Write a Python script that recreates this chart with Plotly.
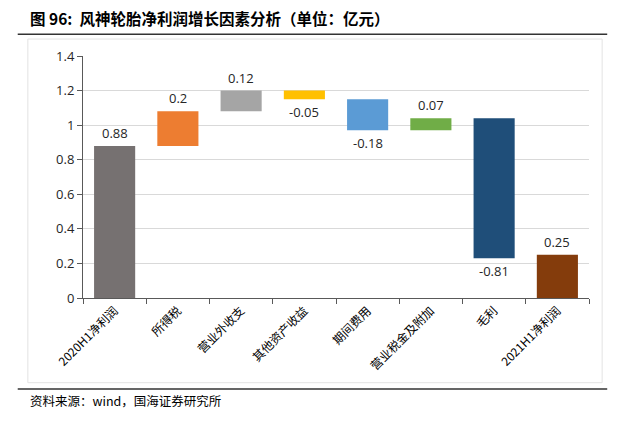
import plotly.graph_objects as go

categories = ["2020H1净利润", "所得税", "营业外收支", "其他资产收益", "期间费用", "营业税金及附加", "毛利", "2021H1净利润"]
values = [0.88, 0.20, 0.12, -0.05, -0.18, 0.07, -0.81, 0.25]
is_total = [True, False, False, False, False, False, False, True]
colors = ["#767171", "#ED7D31", "#A5A5A5", "#FFC000", "#5B9BD5", "#70AD47", "#1F4E79", "#843C0C"]
y_ticks = [0, 0.2, 0.4, 0.6, 0.8, 1, 1.2, 1.4]
y_tick_text = ["0", "0.2", "0.4", "0.6", "0.8", "1", "1.2", "1.4"]

bases = []
cum = 0.0
for v, t in zip(values, is_total):
    if t:
        bases.append(0.0)
        cum = v
    else:
        bases.append(cum)
        cum += v

fig = go.Figure()
fig.add_trace(go.Bar(
    x=categories, y=values, base=bases,
    marker=dict(color=colors, line=dict(width=0)),
    width=0.65, hoverinfo="skip",
))

annotations = []
for c, v, b in zip(categories, values, bases):
    top = b + v if v >= 0 else b
    bot = b if v >= 0 else b + v
    if v >= 0:
        annotations.append(dict(x=c, y=top, text=f"{v:g}", showarrow=False, yanchor="bottom", yshift=2,
                                font=dict(size=13, color="#262626", family="Open Sans")))
    else:
        annotations.append(dict(x=c, y=bot, text=f"{v:g}", showarrow=False, yanchor="top", yshift=-2,
                                font=dict(size=13, color="#262626", family="Open Sans")))

annotations.append(dict(xref="paper", yref="paper", x=-0.108, y=1.155, xanchor="left", yanchor="middle",
                        text="<b>图 96:  风神轮胎净利润增长因素分析（单位：亿元）</b>", showarrow=False,
                        font=dict(size=15.5, color="#000000", family="Noto Sans CJK SC")))
annotations.append(dict(xref="paper", yref="paper", x=-0.108, y=-0.425, xanchor="left", yanchor="middle",
                        text="资料来源：wind，国海证券研究所", showarrow=False,
                        font=dict(size=12.5, color="#000000", family="Noto Sans CJK SC")))

shapes = [
    dict(type="line", xref="paper", yref="paper", x0=-0.129, x1=1.036, y0=1.09, y1=1.09,
         line=dict(color="#333333", width=1.5)),
    dict(type="rect", xref="paper", yref="paper", x0=-0.109, x1=1.026, y0=1.07, y1=-0.35,
         line=dict(color="#E3E3E3", width=1)),
    dict(type="line", xref="paper", yref="paper", x0=-0.129, x1=1.036, y0=-0.376, y1=-0.376,
         line=dict(color="#333333", width=1.5)),
]

fig.update_layout(
    width=611, height=407,
    margin=dict(l=75, r=30, t=48, b=117),
    paper_bgcolor="white", plot_bgcolor="white",
    showlegend=False, bargap=0.35,
    annotations=annotations, shapes=shapes,
    font=dict(family="Noto Sans CJK SC"),
    xaxis=dict(
        type="category", tickangle=-45, ticks="outside", tickson="boundaries", ticklen=5,
        tickcolor="#595959", showline=True, linecolor="#595959", linewidth=1,
        tickfont=dict(size=12, color="#000000", family="Noto Sans CJK SC"),
        showgrid=False, automargin=False,
    ),
    yaxis=dict(
        range=[0, 1.4], tickvals=y_ticks, ticktext=y_tick_text, ticks="outside", ticklen=5,
        tickcolor="#595959", showline=True, linecolor="#595959", linewidth=1,
        showgrid=True, gridcolor="#D9D9D9", gridwidth=1, zeroline=False, automargin=False,
        tickfont=dict(size=13, color="#262626", family="Open Sans"),
    ),
)

fig.write_html("out.html")
